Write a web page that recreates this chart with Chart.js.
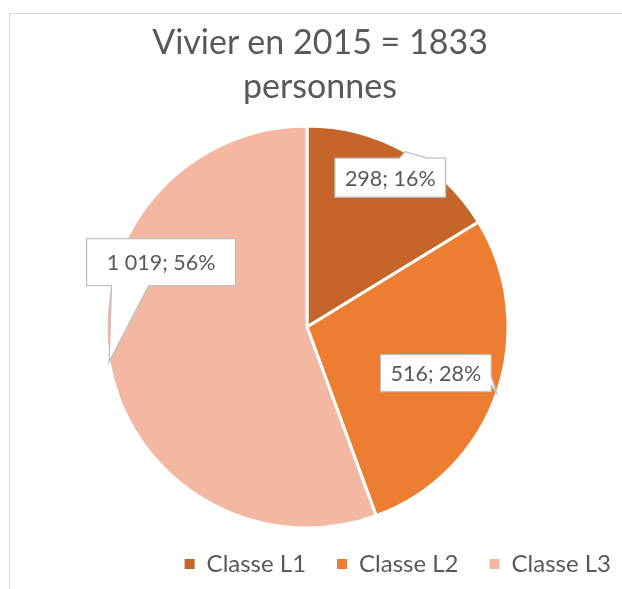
<!DOCTYPE html>
<html>
<head>
<meta charset="utf-8">
<script src="https://cdn.jsdelivr.net/npm/chart.js@4.4.0/dist/chart.umd.min.js"></script>
<style>
  html, body { margin: 0; padding: 0; background: #fff; overflow: hidden; width: 622px; height: 589px; }
  #cadre { position: absolute; left: 9px; top: 13px; width: 700px; height: 700px; border: 1px solid #d9d9d9; box-sizing: border-box; }
  #titre { position: absolute; left: 0; top: 19px; width: 640px; text-align: center; font-family: Lato, sans-serif; font-size: 34px; line-height: 44px; color: #595959; z-index: 2; }
  #zone { position: absolute; left: -28px; top: 0; width: 728px; height: 589px; z-index: 1; }
</style>
</head>
<body>
<div id="cadre"></div>
<div id="titre"></div>
<div id="zone"><canvas id="graphique"></canvas></div>
<script>
// Données du graphique
const titreLignes = ['Vivier en 2015 = 1833', 'personnes'];
const categories = ['Classe L1', 'Classe L2', 'Classe L3'];
const effectifs = [298, 516, 1019];
const couleurs = ['#C5652A', '#ED7D31', '#F4B7A2'];

document.getElementById('titre').innerHTML = titreLignes.join('<br>');

// Format "1 019"
function formatNombre(v) {
  return String(v).replace(/\B(?=(\d{3})+(?!\d))/g, ' ');
}

// Bulle façon Excel (wedgeRectCallout)
function dessinerBulle(ctx, cx, cy, w, h, tx, ty) {
  const l = cx - w / 2, t = cy - h / 2, r = cx + w / 2, b = cy + h / 2;
  const dx = tx - cx, dy = ty - cy;
  const dq = dx * h / w;
  const vertical = Math.abs(dy) > Math.abs(dq);
  const x1 = l + w * (dx > 0 ? 7 : 2) / 12, x2 = l + w * (dx > 0 ? 10 : 5) / 12;
  const y1 = t + h * (dy > 0 ? 7 : 2) / 12, y2 = t + h * (dy > 0 ? 10 : 5) / 12;
  ctx.beginPath();
  ctx.moveTo(l, t);
  if (vertical && dy < 0) { ctx.lineTo(x1, t); ctx.lineTo(tx, ty); ctx.lineTo(x2, t); }
  ctx.lineTo(r, t);
  if (!vertical && dx > 0) { ctx.lineTo(r, y1); ctx.lineTo(tx, ty); ctx.lineTo(r, y2); }
  ctx.lineTo(r, b);
  if (vertical && dy > 0) { ctx.lineTo(x2, b); ctx.lineTo(tx, ty); ctx.lineTo(x1, b); }
  ctx.lineTo(l, b);
  if (!vertical && dx < 0) { ctx.lineTo(l, y2); ctx.lineTo(tx, ty); ctx.lineTo(l, y1); }
  ctx.closePath();
  ctx.fillStyle = '#ffffff';
  ctx.fill();
  ctx.strokeStyle = '#bfbfbf';
  ctx.lineWidth = 1.3;
  ctx.stroke();
}

const pluginBulles = {
  id: 'bulles',
  afterDatasetsDraw(chart, args, opts) {
    const ctx = chart.ctx;
    const meta = chart.getDatasetMeta(0);
    const valeurs = chart.data.datasets[0].data;
    const total = valeurs.reduce((a, b) => a + b, 0);
    ctx.save();
    ctx.font = opts.police;
    meta.data.forEach((arc, i) => {
      const p = arc.getProps(['x', 'y', 'startAngle', 'endAngle', 'outerRadius'], true);
      const milieu = (p.startAngle + p.endAngle) / 2;
      const tx = p.x + Math.cos(milieu) * p.outerRadius;
      const ty = p.y + Math.sin(milieu) * p.outerRadius;
      const texte = formatNombre(valeurs[i]) + '; ' + Math.round(valeurs[i] / total * 100) + '%';
      const w = Math.max(ctx.measureText(texte).width + 20, opts.largeurMin[i]);
      const h = opts.hauteurs[i];
      const cx = tx + opts.decalages[i][0];
      const cy = ty + opts.decalages[i][1];
      dessinerBulle(ctx, cx, cy, w, h, tx, ty);
      ctx.fillStyle = '#595959';
      ctx.textAlign = 'center';
      ctx.textBaseline = 'middle';
      ctx.fillText(texte, cx, cy + 1);
    });
    ctx.restore();
  }
};

const genLabels = Chart.overrides.doughnut.plugins.legend.labels.generateLabels;

new Chart(document.getElementById('graphique'), {
  type: 'pie',
  data: {
    labels: categories,
    datasets: [{
      data: effectifs,
      backgroundColor: couleurs,
      borderColor: '#ffffff',
      borderWidth: 3,
      radius: 201,
      clip: false
    }]
  },
  options: {
    responsive: true,
    maintainAspectRatio: false,
    animation: false,
    layout: { padding: { left: 0, right: 58, top: 133, bottom: 3 } },
    plugins: {
      tooltip: { enabled: false },
      title: { display: false },
      legend: {
        position: 'bottom',
        align: 'end',
        labels: {
          boxWidth: 10,
          boxHeight: 10,
          padding: 31,
          color: '#595959',
          font: { family: 'Lato', size: 24 },
          generateLabels: (chart) => genLabels(chart).map(l => ({ ...l, lineWidth: 0 }))
        }
      },
      bulles: {
        police: '21.5px Lato',
        decalages: [[-15, 26], [-61, -20], [52, -100]],
        largeurMin: [0, 0, 149],
        hauteurs: [39, 37, 47]
      }
    }
  },
  plugins: [pluginBulles]
});
</script>
</body>
</html>
